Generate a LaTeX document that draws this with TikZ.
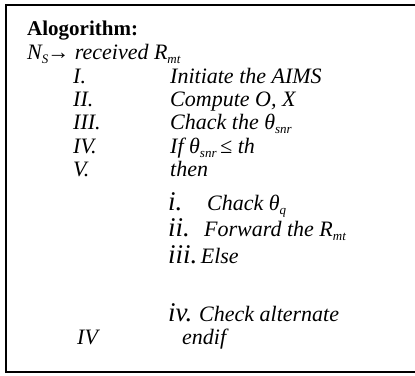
\documentclass[tikz,border=0pt]{standalone}
\usepackage{fontspec}
\setmainfont{Liberation Serif}
\newcommand\sbs[1]{\raisebox{-0.22em}{\fontsize{13}{13}\selectfont #1}}
\begin{document}
\begin{tikzpicture}[x=1pt,y=-1pt,
  txt/.style={anchor=base west, inner sep=0pt, font=\fontsize{22}{24}\selectfont\itshape},
  head/.style={anchor=base west, inner sep=0pt, font=\fontsize{21}{24}\selectfont\bfseries},
  big/.style={anchor=base west, inner sep=0pt, font=\fontsize{27}{27}\selectfont\itshape},
  frame/.style={line width=2pt}]
\useasboundingbox (0,0) rectangle (415,375);
\draw[frame] (430,5) -- (6,5) -- (6,372) -- (430,372);
\node[head] (title) at (27,35) {Alogorithm:};
\node[txt] (recv) at (27,59) {N\sbs{S}\kern-1pt→ received R\sbs{mt}};
\node[txt] (n1) at (73,83) {I.};
\node[txt] (t1) at (170,83) {Initiate the AIMS};
\node[txt] (n2) at (73,106) {II.};
\node[txt] (t2) at (170,106) {Compute O, X};
\node[txt] (n3) at (73,129) {III.};
\node[txt] (t3) at (170,129) {Chack the θ\sbs{snr}};
\node[txt] (n4) at (73,153) {IV.};
\node[txt] (t4) at (170,153) {If θ\sbs{snr}\,≤ th};
\node[txt] (n5) at (73,176) {V.};
\node[txt] (t5) at (170,176) {then};
\node[big] (s1) at (168,210) {i.};
\node[txt] (u1) at (207,210) {Chack θ\sbs{q}};
\node[big] (s2) at (168,236) {ii.};
\node[txt] (u2) at (204,236) {Forward the R\sbs{mt}};
\node[big] (s3) at (168,263) {iii.};
\node[txt, anchor=base west] (u3) at ([xshift=3pt]s3.base east) {Else};
\node[big] (s4) at (168,321) {iv.};
\node[txt] (u4) at (199,321) {Check alternate};
\node[txt] (n6) at (77,344) {IV};
\node[txt] (u5) at (182,344) {endif};
\end{tikzpicture}
\end{document}
